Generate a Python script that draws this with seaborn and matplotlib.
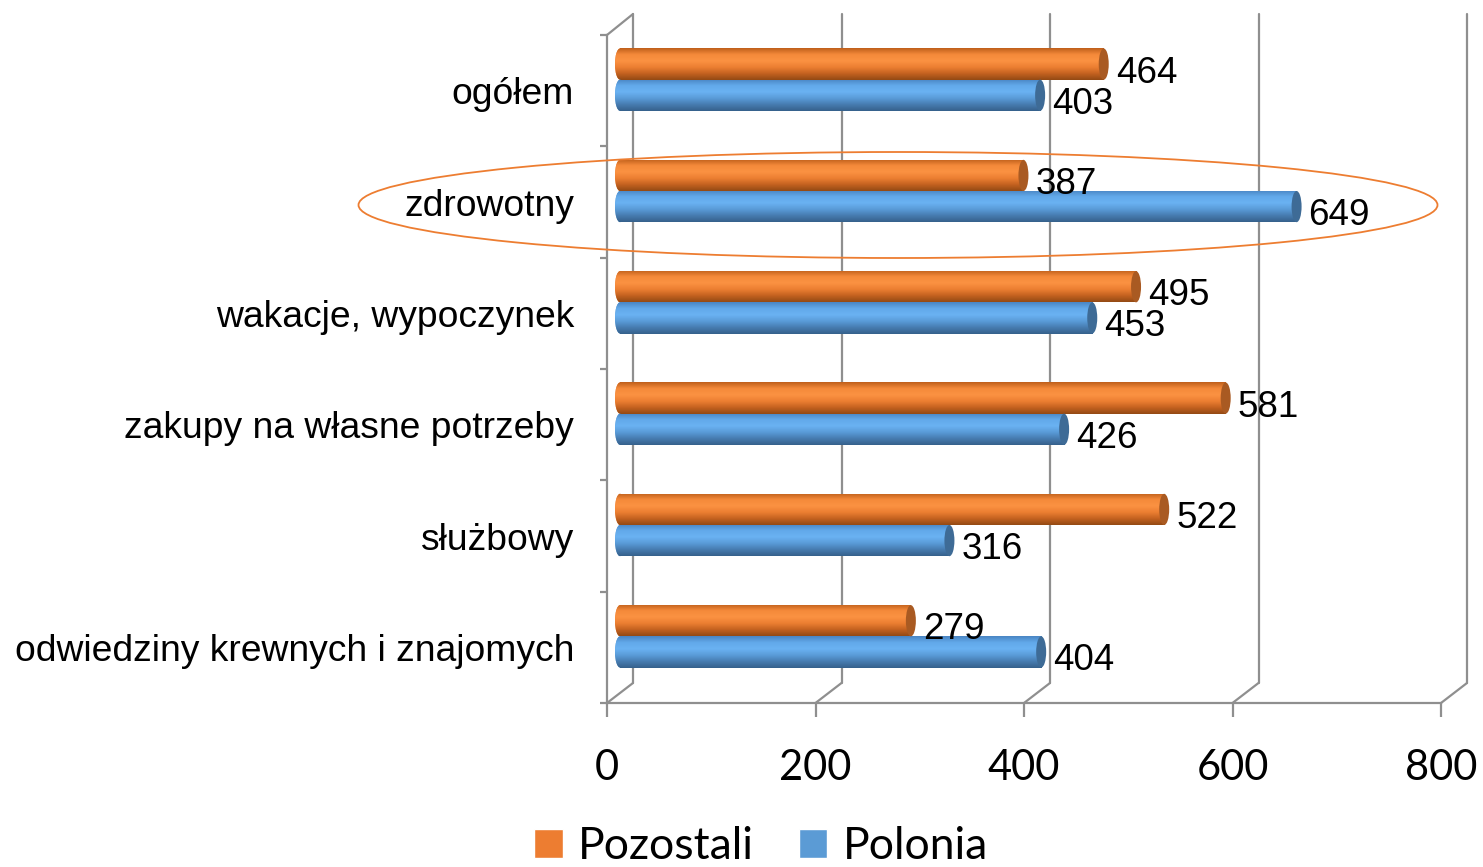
import numpy as np
import pandas as pd
import matplotlib
matplotlib.use("Agg")
import matplotlib.pyplot as plt
import matplotlib.transforms as mtransforms
from matplotlib.colors import to_rgb
from matplotlib.patches import Ellipse, Patch
import seaborn as sns

# dane z wykresu
categories = ["ogółem", "zdrowotny", "wakacje, wypoczynek",
              "zakupy na własne potrzeby", "służbowy",
              "odwiedziny krewnych i znajomych"]
pozostali = [464, 387, 495, 581, 522, 279]
polonia = [403, 649, 453, 426, 316, 404]
series = ["Pozostali", "Polonia"]
x_ticks = [0, 200, 400, 600, 800]

colors = {"Pozostali": "#ED7D31", "Polonia": "#5B9BD5"}
shades = {
    "Pozostali": ["#c0601c", "#f58a3a", "#fb9242", "#ec7f32", "#c46220", "#944a14"],
    "Polonia": ["#4a86c4", "#62a9ea", "#6ab2f2", "#5a9bd8", "#477cb0", "#36618c"],
}
caps = {"Pozostali": "#a95a22", "Polonia": "#3e6b96"}
grid_col = "#8f8f8f"

df = pd.DataFrame({
    "kategoria": categories * 2,
    "wartosc": pozostali + polonia,
    "seria": ["Pozostali"] * len(categories) + ["Polonia"] * len(categories),
})

sns.set_style("white")
plt.rcParams["font.family"] = ["Liberation Sans", "DejaVu Sans"]
plt.rcParams["text.color"] = "black"
plt.rcParams["xtick.labelcolor"] = "black"
plt.rcParams["ytick.labelcolor"] = "black"

W, H = 1483, 867
fig = plt.figure(figsize=(W / 100, H / 100), dpi=100)
# przednia plaszczyzna wykresu
ax_l, ax_r, ax_t, ax_b = 607, 1441, 35, 703
ax = fig.add_axes([ax_l / W, (H - ax_b) / H, (ax_r - ax_l) / W, (ax_b - ax_t) / H])

sns.barplot(data=df, x="wartosc", y="kategoria", hue="seria", hue_order=series,
            palette=colors, orient="h", width=0.56, ax=ax, legend=False,
            linewidth=0, zorder=3)

ax.set_xlim(0, 800)
ax.set_ylim(5.5, -0.5)

px_per_unit = (ax_r - ax_l) / 800
depth = (26, 20)  # przesuniecie tylnej plaszczyzny w px


def gradient(hexes, n=64):
    cols = np.array([to_rgb(c) for c in hexes])
    pos = np.linspace(0, 1, len(hexes))
    t = np.linspace(0, 1, n)
    g = np.stack([np.interp(t, pos, cols[:, i]) for i in range(3)], axis=-1)
    return g[:, None, :]


shift = ax.transData + mtransforms.ScaledTranslation(13 / 100, 11 / 100, fig.dpi_scale_trans)
lab_tr = ax.transData + mtransforms.ScaledTranslation(25 / 100, 2 / 100, fig.dpi_scale_trans)
cap_w = 10 / px_per_unit

for container, name, vals in zip(ax.containers, series, [pozostali, polonia]):
    grad = gradient(shades[name])
    for bar, v in zip(container, vals):
        bar.set_transform(shift)
        x0, y0 = bar.get_x(), bar.get_y()
        w, h = bar.get_width(), bar.get_height()
        im = ax.imshow(grad, extent=(x0, x0 + w, y0 + h, y0), origin="upper",
                       aspect="auto", transform=shift, zorder=4)
        im.set_clip_path(bar)
        # lewy koniec walca
        left = Ellipse((x0, y0 + h / 2), cap_w, h, transform=shift, lw=0,
                       facecolor=colors[name], zorder=3)
        ax.add_patch(left)
        im2 = ax.imshow(grad, extent=(x0 - cap_w / 2, x0 + cap_w / 2, y0 + h, y0),
                        origin="upper", aspect="auto", transform=shift, zorder=4)
        im2.set_clip_path(left)
        # prawy koniec walca
        ax.add_patch(Ellipse((x0 + w, y0 + h / 2), cap_w, h, transform=shift,
                             lw=0, facecolor=caps[name], zorder=5))
        ax.text(v, y0 + h / 2, str(v), transform=lab_tr, ha="left", va="center",
                fontsize=26.5, color="black", zorder=6)

ax.set_xlim(0, 800)
ax.set_ylim(5.5, -0.5)

# siatka 3D
blend = mtransforms.blended_transform_factory(ax.transData, ax.transAxes)
ddx = depth[0] / px_per_unit
ddy = depth[1] / (ax_b - ax_t)
ddy_top = 21 / (ax_b - ax_t)
line_kw = dict(color=grid_col, lw=1.6, transform=blend, clip_on=False, zorder=1)
for t in x_ticks:
    ax.plot([t, t + ddx], [0, ddy], **line_kw)
    ax.plot([t + ddx, t + ddx], [ddy, 1 + ddy_top], **line_kw)
ax.plot([0, ddx], [1, 1 + ddy_top], **line_kw)

for s in ["top", "right"]:
    ax.spines[s].set_visible(False)
for s in ["left", "bottom"]:
    ax.spines[s].set_color(grid_col)
    ax.spines[s].set_linewidth(1.6)

ax.set_xticks(x_ticks)
ax.set_xticklabels([str(t) for t in x_ticks], fontsize=30, family=["Lato", "DejaVu Sans"])
ax.tick_params(axis="x", length=10, width=1.6, color=grid_col, pad=23, direction="out",
               bottom=True)
ax.set_yticks(range(len(categories)))
ax.set_yticklabels(categories, fontsize=26.8)
ax.set_yticks(np.arange(-0.5, len(categories), 1), minor=True)
ax.tick_params(axis="y", which="major", length=0, pad=23.8, left=True)
ax.tick_params(axis="y", which="minor", length=5, width=1.6, color=grid_col,
               direction="out", left=True)
ax.set_xlabel("")
ax.set_ylabel("")
ax.grid(False)

# wyroznienie kategorii "zdrowotny"
fig.add_artist(Ellipse((898 / W, (H - 205) / H), 1079 / W, 106 / H,
                       transform=fig.transFigure, fill=False,
                       edgecolor="#ED7D31", lw=1.3))

handles = [Patch(facecolor=colors[s]) for s in series]
fig.legend(handles, series, loc="lower center", bbox_to_anchor=(761 / W, 0.0),
           ncol=2, frameon=False, prop={"family": ["Lato", "DejaVu Sans"], "size": 32},
           handlelength=0.65, handleheight=0.65, handletextpad=0.35,
           columnspacing=1.0, borderaxespad=0, borderpad=0)

fig.savefig("out.png", dpi=100, facecolor="white")
